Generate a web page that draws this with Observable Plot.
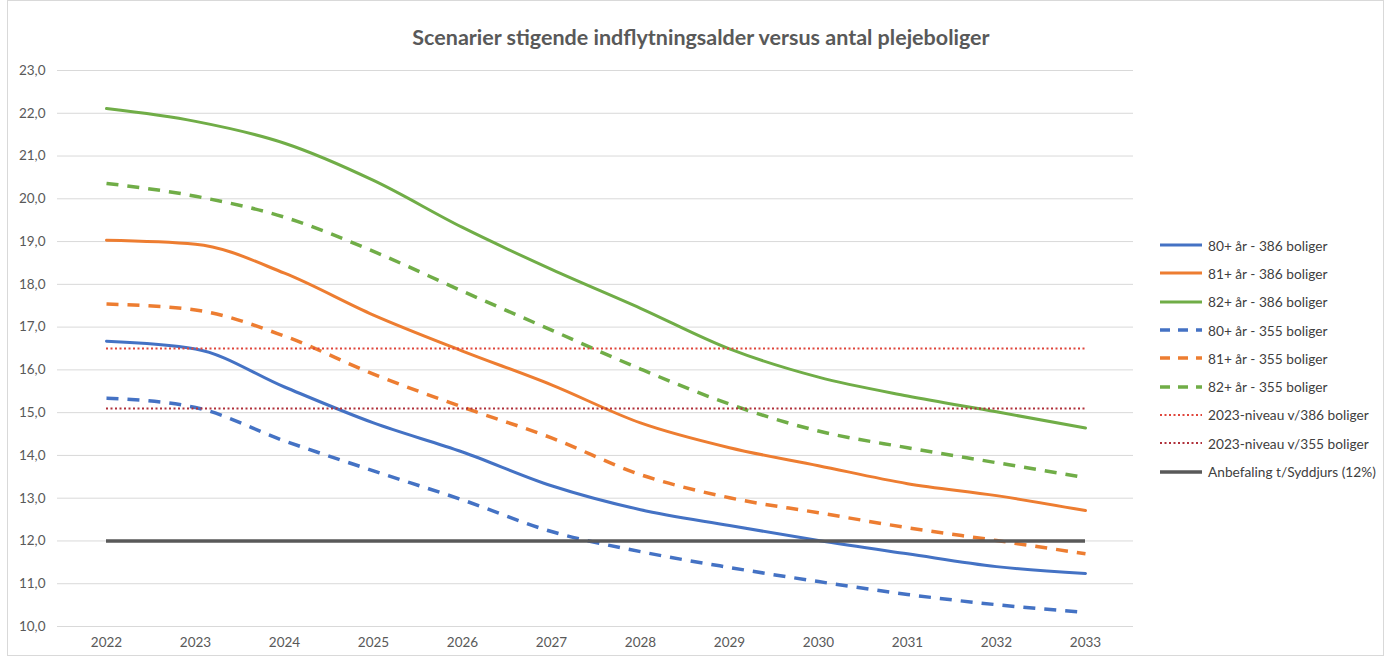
<!DOCTYPE html>
<html>
<head>
<meta charset="utf-8">
<script src="https://cdn.jsdelivr.net/npm/d3@7"></script>
<script src="https://cdn.jsdelivr.net/npm/@observablehq/plot@0.6"></script>
<style>
  html, body { margin: 0; padding: 0; background: #fff; }
  #wrap { position: relative; width: 1386px; height: 658px; font-family: Lato, "Open Sans", sans-serif; overflow: hidden; }
  #frame { position: absolute; left: 7px; top: 0px; width: 1377px; height: 656px; border: 1px solid #d9d9d9; box-sizing: border-box; pointer-events: none; }
  #title { height: 52px; line-height: 74px; text-align: center; font-size: 21.5px; font-weight: bold; color: #595959; padding-left: 16px; }
  #legend { position: absolute; left: 1158px; top: 231px; font-size: 13.7px; color: #404040; }
  .item { display: flex; align-items: center; height: 28.3px; white-space: nowrap; }
  .item svg { margin-right: 4px; }
</style>
</head>
<body>
<div id="wrap">
  <div id="frame"></div>
  <div id="title">Scenarier stigende indflytningsalder versus antal plejeboliger</div>
  <div id="chart"></div>
  <div id="legend"></div>
</div>
<script>
const years = [2022, 2023, 2024, 2025, 2026, 2027, 2028, 2029, 2030, 2031, 2032, 2033];

const s80_386 = [16.67, 16.49, 15.60, 14.76, 14.08, 13.29, 12.73, 12.36, 12.01, 11.70, 11.40, 11.24];
const s81_386 = [19.03, 18.94, 18.26, 17.28, 16.44, 15.65, 14.76, 14.18, 13.76, 13.34, 13.06, 12.71];
const s82_386 = [22.11, 21.81, 21.30, 20.43, 19.33, 18.35, 17.44, 16.49, 15.83, 15.39, 15.02, 14.64];
const s80_355 = [15.34, 15.12, 14.34, 13.64, 12.96, 12.22, 11.75, 11.38, 11.05, 10.75, 10.51, 10.33];
const s81_355 = [17.54, 17.40, 16.79, 15.90, 15.13, 14.41, 13.55, 13.01, 12.66, 12.31, 12.01, 11.70];
const s82_355 = [20.36, 20.06, 19.57, 18.77, 17.84, 16.93, 16.02, 15.20, 14.57, 14.18, 13.83, 13.48];

const level386 = 16.5;
const level355 = 15.1;
const anbefaling = 12.0;

const yTicks = [10, 11, 12, 13, 14, 15, 16, 17, 18, 19, 20, 21, 22, 23];

const seriesDefs = [
  {name: "80+ år - 386 boliger", values: s80_386, color: "#4472C4", dash: null},
  {name: "81+ år - 386 boliger", values: s81_386, color: "#ED7D31", dash: null},
  {name: "82+ år - 386 boliger", values: s82_386, color: "#70AD47", dash: null},
  {name: "80+ år - 355 boliger", values: s80_355, color: "#4472C4", dash: "12,9"},
  {name: "81+ år - 355 boliger", values: s81_355, color: "#ED7D31", dash: "12,9"},
  {name: "82+ år - 355 boliger", values: s82_355, color: "#70AD47", dash: "12,9"}
];
const refDefs = [
  {name: "2023-niveau v/386 boliger", value: level386, color: "#E0463C", dash: "2,2.5", width: 2},
  {name: "2023-niveau v/355 boliger", value: level355, color: "#B0303A", dash: "2,2.5", width: 2},
  {name: "Anbefaling t/Syddjurs (12%)", value: anbefaling, color: "#595959", dash: null, width: 3.5}
];

const fmt = d => d.toFixed(1).replace(".", ",");

const marks = [
  Plot.gridY(yTicks, {stroke: "#d9d9d9", strokeOpacity: 1, strokeWidth: 1}),
  Plot.axisY(yTicks, {tickSize: 0, tickPadding: 12, tickFormat: fmt, fontSize: 13.5, fill: "#595959", label: null}),
  Plot.axisX(years, {tickSize: 0, tickPadding: 11, tickFormat: d => String(d), fontSize: 13.5, fill: "#595959", label: null})
];
for (const s of seriesDefs) {
  const rows = years.map((y, i) => ({year: y, v: s.values[i]}));
  marks.push(Plot.line(rows, {
    x: "year", y: "v", stroke: s.color,
    strokeWidth: s.dash ? 3.5 : 3,
    strokeDasharray: s.dash || undefined,
    strokeLinecap: s.dash ? "butt" : "round",
    curve: "monotone-x"
  }));
}
for (const r of refDefs) {
  marks.push(Plot.ruleY([r.value], {
    x1: years[0], x2: years[years.length - 1],
    stroke: r.color, strokeWidth: r.width,
    strokeDasharray: r.dash || undefined
  }));
}

const chart = Plot.plot({
  width: 1386,
  height: 606,
  marginLeft: 57,
  marginRight: 253,
  marginTop: 18,
  marginBottom: 32,
  style: {fontFamily: "Lato, 'Open Sans', sans-serif", background: "transparent"},
  x: {type: "point", domain: years, padding: 0.5, axis: null},
  y: {domain: [10, 23], axis: null},
  marks
});
document.getElementById("chart").appendChild(chart);

const legend = document.getElementById("legend");
const allDefs = [
  ...seriesDefs.map(s => ({name: s.name, color: s.color, dash: s.dash ? "10,8" : null, width: s.dash ? 3.5 : 3})),
  ...refDefs.map(r => ({name: r.name, color: r.color, dash: r.dash, width: r.width}))
];
for (const d of allDefs) {
  const item = document.createElement("div");
  item.className = "item";
  const ns = "http://www.w3.org/2000/svg";
  const sw = document.createElementNS(ns, "svg");
  sw.setAttribute("width", "46");
  sw.setAttribute("height", "10");
  const ln = document.createElementNS(ns, "line");
  ln.setAttribute("x1", "2"); ln.setAttribute("x2", "44");
  ln.setAttribute("y1", "5"); ln.setAttribute("y2", "5");
  ln.setAttribute("stroke", d.color);
  ln.setAttribute("stroke-width", d.width);
  if (d.dash) ln.setAttribute("stroke-dasharray", d.dash);
  sw.appendChild(ln);
  item.appendChild(sw);
  const t = document.createElement("span");
  t.textContent = d.name;
  item.appendChild(t);
  legend.appendChild(item);
}
</script>
</body>
</html>
